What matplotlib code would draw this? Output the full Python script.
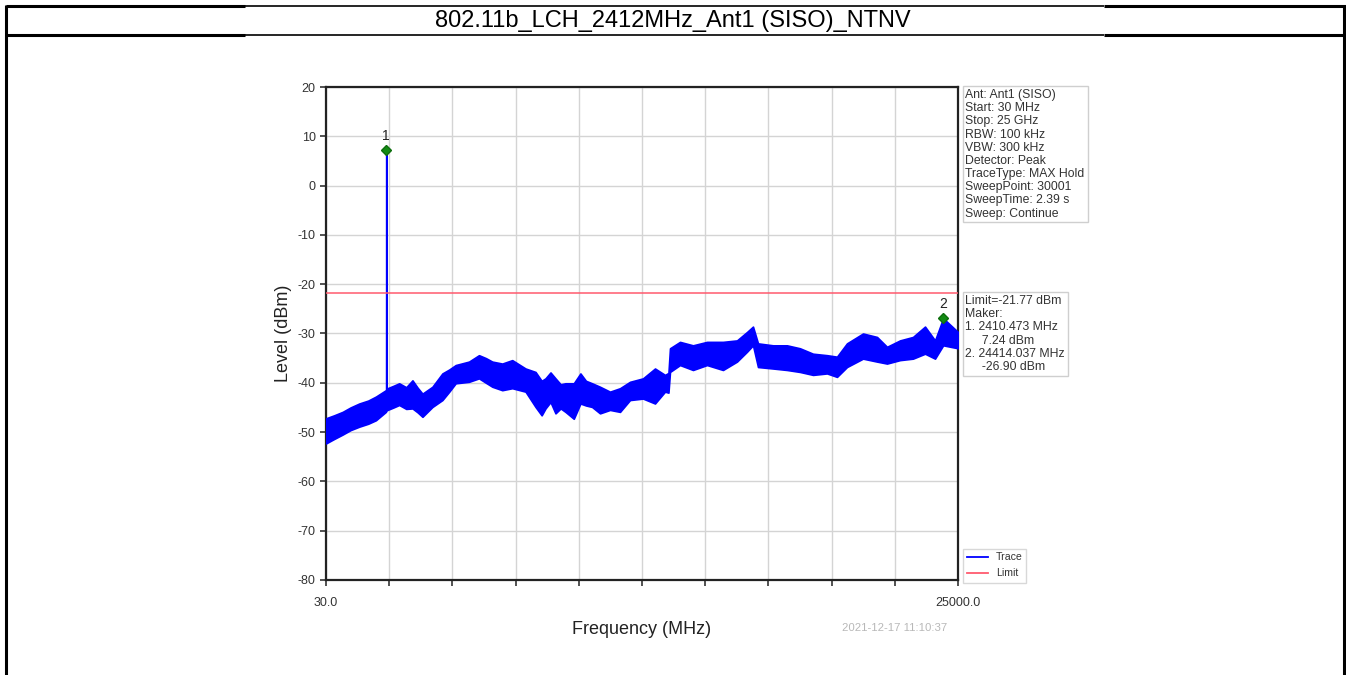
import numpy as np
import matplotlib.pyplot as plt
from matplotlib.lines import Line2D
from matplotlib.patches import Rectangle

plt.rcParams['font.family'] = ['Liberation Sans', 'DejaVu Sans']
plt.rcParams['axes.unicode_minus'] = False

# ---- spectrum data (MHz / dBm), max-hold envelope of the trace ----
freq_mhz = [30, 350, 687, 1000, 1344, 1700, 2001, 2395, 2405, 2410.473, 2416, 2700,
            2921, 3200, 3446, 3650, 3841, 4235, 4629, 4900, 5155, 5680, 6074, 6350,
            6600, 6994, 7388, 7914, 8308, 8550, 8702, 8900, 9097, 9300, 9491, 9820,
            10082, 10300, 10542, 10856, 11251, 11646, 12041, 12555, 13029, 13424,
            13560, 13621, 14016, 14530, 15083, 15715, 16268, 16663, 16900, 17098,
            17691, 18244, 18757, 19271, 19824, 20219, 20614, 21246, 21800, 22195,
            22709, 23222, 23697, 24092, 24414.037, 25000]
level_top = [-47.2, -46.6, -45.9, -45.0, -44.2, -43.6, -42.8, -41.5, -41.4, 7.24, -41.2, -40.6,
             -40.1, -40.9, -39.5, -41.0, -42.2, -40.8, -38.1, -37.3, -36.4, -35.7, -34.4, -35.0,
             -35.7, -36.1, -35.4, -37.1, -37.8, -39.6, -39.1, -37.9, -39.1, -40.3, -40.1, -40.1,
             -38.1, -39.6, -40.1, -40.8, -41.8, -41.1, -39.8, -39.1, -37.1, -38.4,
             -38.0, -33.0, -31.7, -32.4, -31.7, -31.7, -31.4, -29.7, -28.6, -32.0,
             -32.4, -32.4, -33.0, -34.1, -34.4, -34.7, -32.0, -30.0, -30.7, -32.7,
             -31.4, -30.7, -28.6, -31.4, -26.90, -29.7]
level_bottom = [-52.3, -51.4, -50.5, -49.6, -48.9, -48.3, -47.6, -45.9, -45.8, -45.7, -45.6, -45.0,
                -44.5, -45.3, -45.2, -46.0, -46.9, -44.9, -43.5, -41.8, -40.1, -39.8, -39.1, -40.0,
                -40.8, -41.5, -41.1, -41.8, -44.9, -46.6, -45.2, -43.9, -46.2, -45.2, -45.9, -47.3,
                -44.2, -44.6, -44.9, -46.2, -45.5, -45.9, -43.5, -43.2, -44.2, -41.8,
                -42.0, -37.8, -36.4, -37.4, -36.4, -37.4, -35.7, -33.7, -32.4, -36.8,
                -37.1, -37.4, -37.8, -38.4, -38.1, -38.8, -36.8, -35.1, -35.7, -36.1,
                -35.4, -35.1, -34.1, -35.1, -32.4, -33.0]

limit_dbm = -21.77
marker_freq = [2410.473, 24414.037]
marker_level = [7.24, -26.90]
marker_names = ['1', '2']

setup_lines = ["Ant: Ant1 (SISO)", "Start: 30 MHz", "Stop: 25 GHz", "RBW: 100 kHz",
               "VBW: 300 kHz", "Detector: Peak", "TraceType: MAX Hold",
               "SweepPoint: 30001", "SweepTime: 2.39 s", "Sweep: Continue"]

W, H = 1346, 675
fig = plt.figure(figsize=(W / 100, H / 100), dpi=100)


def fx(px):
    return px / W


def fy(py):
    return 1 - py / H


# ---- table frame round the plot ----
frame = dict(color='black', transform=fig.transFigure, solid_capstyle='butt')
for yy in (6, 35):
    fig.add_artist(Line2D([fx(6), fx(245)], [fy(yy)] * 2, lw=2.2, **frame))
    fig.add_artist(Line2D([fx(245), fx(1104)], [fy(yy)] * 2, lw=1.2, **frame))
    fig.add_artist(Line2D([fx(1104), fx(1346)], [fy(yy)] * 2, lw=2.2, **frame))
fig.add_artist(Line2D([fx(6)] * 2, [fy(5), 0], lw=2.2, **frame))
fig.add_artist(Line2D([fx(1344)] * 2, [fy(5), 0], lw=2.2, **frame))
fig.text(fx(673), fy(21), "802.11b_LCH_2412MHz_Ant1 (SISO)_NTNV", ha='center', va='center',
         fontsize=17, color='black')

# ---- spectrum axes ----
ax = fig.add_axes([fx(326), fy(580), fx(958) - fx(326), fy(87) - fy(580)])
f_start, f_stop = 30.0, 25000.0
ax.set_xlim(f_start, f_stop)
ax.set_ylim(-80, 20)

xt = np.linspace(f_start, f_stop, 11)
ax.set_xticks(xt)
ax.set_xticklabels(['30.0'] + [''] * 9 + ['25000.0'])
ax.set_yticks(np.arange(-80, 21, 10))
ax.grid(True, color='#d4d4d4', lw=1.0)
ax.set_axisbelow(True)
ax.tick_params(axis='both', labelsize=9, colors='#333333', length=4, width=1.2,
               direction='out')
ax.tick_params(axis='x', pad=8)
for s in ax.spines.values():
    s.set_color('#222222')
    s.set_linewidth(1.6)

ax.set_xlabel("Frequency (MHz)", fontsize=13, color='#222222', labelpad=9)
ax.set_ylabel("Level (dBm)", fontsize=13, color='#222222', labelpad=4)

ax.fill_between(freq_mhz, level_bottom, level_top, color='#0000ff', ec='#0000ff',
                lw=1.2, zorder=3)
ax.axhline(limit_dbm, color='#ff5a6e', lw=1.1, zorder=4)

ax.plot(marker_freq, marker_level, ls='none', marker='D', ms=5.5, color='#138a13',
        mec='#0d6e0d', zorder=6)
for f, lv, nm in zip(marker_freq, marker_level, marker_names):
    ax.annotate(nm, (f, lv), xytext=(0, 5), textcoords='offset points', ha='center',
                va='bottom', fontsize=10, color='#222222')

# ---- side panels ----
txt_kw = dict(fontsize=8.8, color='#333333', va='top', ha='left', linespacing=1.13)
fig.add_artist(Rectangle((fx(963), fy(222)), fx(1088) - fx(963), fy(86) - fy(222),
                         transform=fig.transFigure, fc='white', ec='#cfcfcf', lw=1))
fig.text(fx(965), fy(89), "\n".join(setup_lines), **txt_kw)

marker_lines = [f"Limit={limit_dbm:.2f} dBm", "Maker:"]
for i, (f, lv) in enumerate(zip(marker_freq, marker_level), 1):
    marker_lines.append(f"{i}. {f:.3f} MHz")
    marker_lines.append(f"     {lv:.2f} dBm")
fig.add_artist(Rectangle((fx(963), fy(376)), fx(1068) - fx(963), fy(292) - fy(376),
                         transform=fig.transFigure, fc='white', ec='#cfcfcf', lw=1))
fig.text(fx(965), fy(295), "\n".join(marker_lines), **txt_kw)

# legend
fig.add_artist(Rectangle((fx(963), fy(583)), fx(1026) - fx(963), fy(549) - fy(583),
                         transform=fig.transFigure, fc='white', ec='#d8d8d8', lw=1))
for yy, col, lab in ((557, '#0000ff', 'Trace'), (573, '#ff5a6e', 'Limit')):
    fig.add_artist(Line2D([fx(967), fx(988)], [fy(yy)] * 2, color=col, lw=1.3,
                          transform=fig.transFigure))
    fig.text(fx(996), fy(yy), lab, fontsize=7.6, color='#333333', va='center')

fig.text(fx(895), fy(628), "2021-12-17 11:10:37", fontsize=8.2, color='#b8b8b8',
         ha='center', va='center')

fig.savefig('out.png', dpi=100)
